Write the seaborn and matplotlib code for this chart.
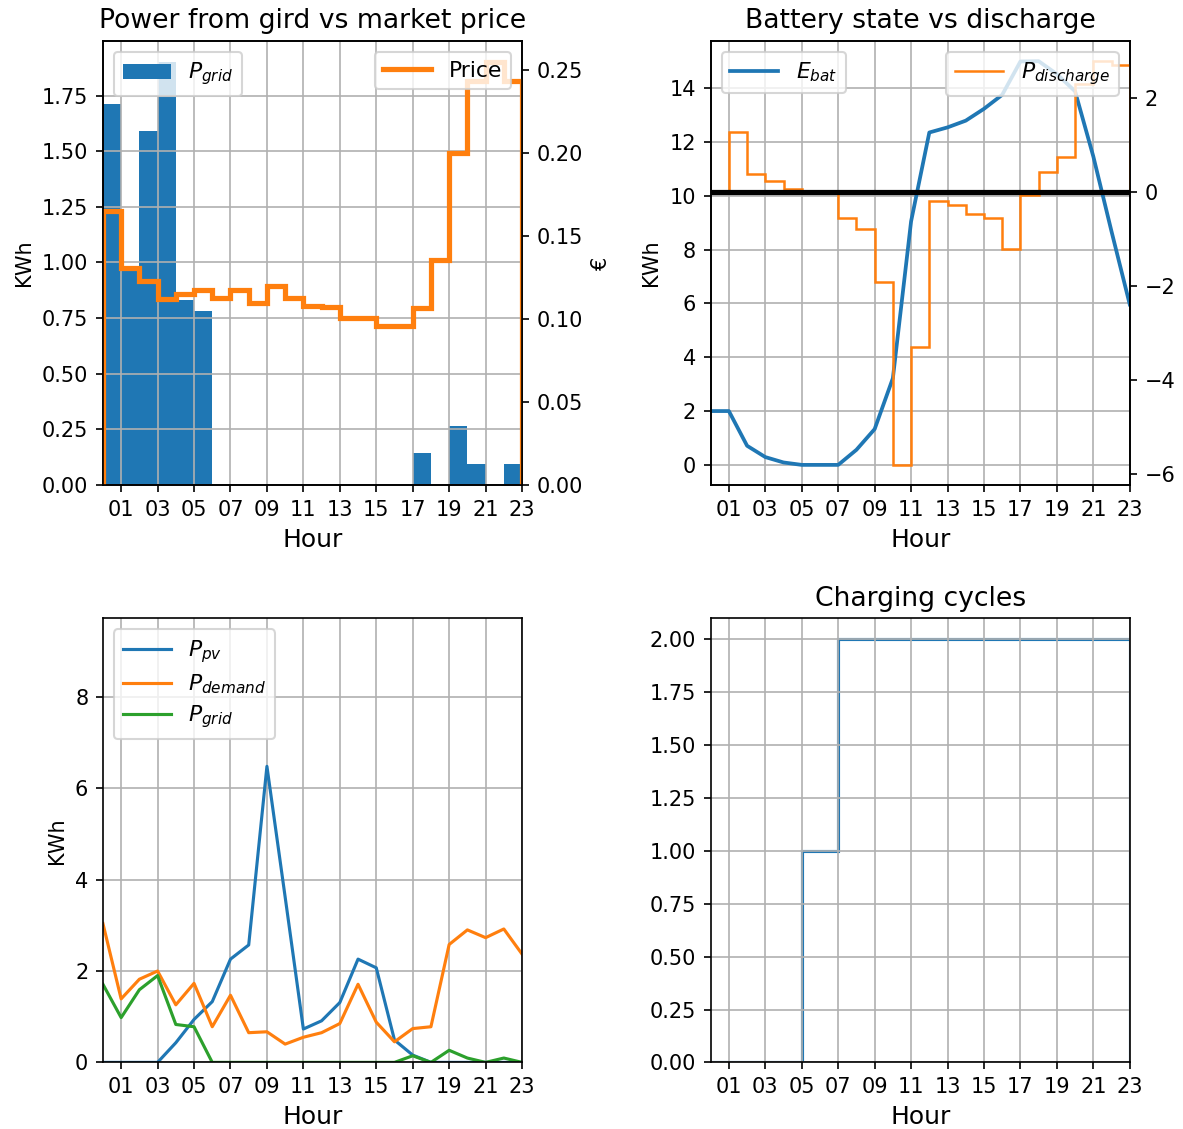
import numpy as np
import pandas as pd
import seaborn as sns
import matplotlib.pyplot as plt

# hourly data
hours = np.arange(24)
edges = np.arange(24)  # stair edges 0..23

p_grid = [1.71, 0.98, 1.59, 1.90, 0.83, 0.78, 0, 0, 0, 0, 0, 0,
          0, 0, 0, 0, 0, 0.145, 0, 0.265, 0.095, 0, 0.095, 0]
price = [0.165, 0.131, 0.123, 0.112, 0.115, 0.1175, 0.113, 0.1175, 0.1095, 0.120,
         0.113, 0.108, 0.1075, 0.1005, 0.1005, 0.096, 0.096, 0.1065, 0.136, 0.200,
         0.2435, 0.255, 0.2435]

e_bat = [2.0, 2.0, 0.71, 0.29, 0.09, 0, 0, 0, 0.56, 1.33, 3.22, 9.05,
         12.35, 12.54, 12.79, 13.23, 13.75, 14.99, 15.0, 14.52, 13.88, 11.46, 8.67, 5.96]
p_discharge = [0, 1.29, 0.38, 0.23, 0.07, 0, 0, -0.54, -0.79, -1.91, -5.80, -3.29,
               -0.18, -0.26, -0.46, -0.54, -1.21, -0.05, 0.44, 0.76, 2.30, 2.79, 2.71]

p_pv = [0, 0, 0, 0, 0.43, 0.94, 1.33, 2.26, 2.57, 6.48, 3.62, 0.73,
        0.91, 1.31, 2.26, 2.07, 0.49, 0.16, 0, 0, 0, 0, 0, 0]
p_demand = [3.04, 1.39, 1.82, 2.0, 1.26, 1.73, 0.78, 1.47, 0.65, 0.67, 0.40, 0.55,
            0.65, 0.85, 1.71, 0.88, 0.45, 0.74, 0.78, 2.58, 2.90, 2.73, 2.92, 2.37]

cycles = [0, 0, 0, 0, 0, 1, 1, 2, 2, 2, 2, 2, 2, 2, 2, 2, 2, 2, 2, 2, 2, 2, 2]

tick_pos = list(range(1, 24, 2))
tick_lab = [f"{h:02d}" for h in tick_pos]

df = pd.DataFrame({'hour': hours, 'pv': p_pv, 'demand': p_demand, 'grid': p_grid, 'ebat': e_bat})

fig, axs = plt.subplots(2, 2, figsize=(1183 / 150, 1129 / 150), dpi=150)
fig.subplots_adjust(left=0.087, right=0.955, bottom=0.059, top=0.9637, wspace=0.45, hspace=0.30)

leg_kw = dict(fontsize=10.5, handlelength=2.2, labelspacing=0.35)
title_size = 12.8


def fmt_x(ax):
    ax.set_xlim(0, 23)
    ax.set_xticks(tick_pos)
    ax.set_xticklabels(tick_lab)
    ax.set_xlabel('Hour', fontsize=12)
    ax.grid(True)


# power from grid vs price
ax = axs[0, 0]
ax.bar(hours, p_grid, width=1, align='edge', color='C0', label=r'$P_{grid}$')
ax.set_ylabel('KWh')
ax.set_title('Power from gird vs market price', fontsize=title_size)
fmt_x(ax)
ax.legend(loc='upper left', **leg_kw)
ax2 = ax.twinx()
ax2.stairs(price, edges, color='C1', linewidth=2.5, label='Price')
ax2.set_ylabel('€')
ax2.legend(loc='upper right', **leg_kw)

# battery state vs discharge
ax = axs[0, 1]
sns.lineplot(data=df, x='hour', y='ebat', ax=ax, color='C0', linewidth=1.8, label=r'$E_{bat}$')
ax.set_ylabel('KWh')
ax.set_title('Battery state vs discharge', fontsize=title_size)
fmt_x(ax)
ax.legend(loc='upper left', **leg_kw)
ax2 = ax.twinx()
ax2.stairs(p_discharge, edges, color='C1', linewidth=1.2, label=r'$P_{discharge}$')
ax2.axhline(0, color='k', linewidth=2.5)
ax2.legend(loc='upper right', **leg_kw)

# pv / demand / grid
ax = axs[1, 0]
sns.lineplot(data=df, x='hour', y='pv', ax=ax, color='C0', label=r'$P_{pv}$')
sns.lineplot(data=df, x='hour', y='demand', ax=ax, color='C1', label=r'$P_{demand}$')
sns.lineplot(data=df, x='hour', y='grid', ax=ax, color='C2', label=r'$P_{grid}$')
ax.set_ylim(0, 1.5 * max(p_pv))
ax.set_ylabel('KWh')
fmt_x(ax)
ax.legend(loc='upper left', **leg_kw)

# charging cycles
ax = axs[1, 1]
ax.stairs(cycles, edges, color='C0', linewidth=1.5)
ax.set_title('Charging cycles', fontsize=title_size)
ax.set_ylabel('')
fmt_x(ax)

fig.savefig('out.png', dpi=150)
